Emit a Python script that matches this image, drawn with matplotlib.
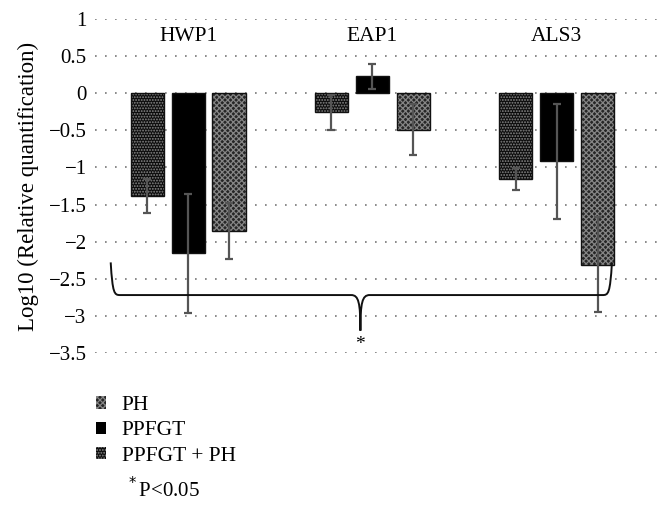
import numpy as np
import matplotlib
matplotlib.use("Agg")
import matplotlib.pyplot as plt
from matplotlib.path import Path
from matplotlib.patches import PathPatch, Patch

plt.rcParams['font.family'] = ['Liberation Serif', 'DejaVu Serif']
plt.rcParams['hatch.linewidth'] = 0.9

# genes on the x axis
genes = ["HWP1", "EAP1", "ALS3"]

# series, in the order they sit inside each group
series_names = ["PPFGT + PH", "PPFGT", "PH"]
ppfgt_ph = [-1.38, -0.26, -1.16]
ppfgt_ph_err = [0.23, 0.23, 0.15]
ppfgt = [-2.16, 0.23, -0.92]
ppfgt_err = [0.80, 0.17, 0.78]
ph = [-1.86, -0.49, -2.31]
ph_err = [0.38, 0.34, 0.64]

values = [ppfgt_ph, ppfgt, ph]
errors = [ppfgt_ph_err, ppfgt_err, ph_err]

# look of each series: face, hatch, hatch colour
styles = [("#0c0c0c", "......", "#8a8a8a"),
          ("#000000", None, None),
          ("#262626", "xxxxxx", "#858585")]

fig = plt.figure(figsize=(6.6, 5.13), dpi=100)
ax = fig.add_axes([0.144, 0.312, 0.853, 0.651])

x = np.arange(len(genes))
w = 0.18
offsets = [-0.222, 0.0, 0.222]

for vals, errs, off, (fc, hatch, hc) in zip(values, errors, offsets, styles):
    if hatch:
        ax.bar(x + off, vals, w, color=fc, hatch=hatch, edgecolor=hc, linewidth=0, zorder=2)
        ax.bar(x + off, vals, w, fill=False, edgecolor="#111111", linewidth=1.0, zorder=3)
    else:
        ax.bar(x + off, vals, w, color=fc, edgecolor="#111111", linewidth=1.0, zorder=2)
    ax.errorbar(x + off, vals, yerr=errs, fmt="none", ecolor="#555555",
                elinewidth=1.6, capsize=3, capthick=1.6, zorder=4)

# gene names along the top
for xi, g in zip(x, genes):
    ax.text(xi, 0.76, g, ha="center", va="center", fontsize=15.5)

ax.set_xlim(-0.505, 2.55)
ax.set_ylim(-3.5, 1)
ax.set_yticks(np.arange(-3.5, 1.01, 0.5))
ax.set_yticklabels(["−3.5", "−3", "−2.5", "−2", "−1.5", "−1", "−0.5", "0", "0.5", "1"])
ax.set_xticks([])
ax.tick_params(axis="y", length=0, labelsize=15, pad=6)
ax.yaxis.grid(True, linestyle=(0, (1, 5)), color="#777777", linewidth=1.2)
ax.set_axisbelow(True)
for s in ax.spines.values():
    s.set_visible(False)
ax.set_ylabel("Log10 (Relative quantification)", fontsize=16.5, labelpad=7)

# curly brace under the groups
xl, xr, tip = -0.42, 2.30, 0.935
yb, yt, ytip = -2.72, -2.28, -3.2
verts = [(xl, yt), (xl + 0.01, yb + 0.02), (xl + 0.02, yb), (xl + 0.05, yb),
         (tip - 0.05, yb),
         (tip - 0.01, yb), (tip, yb - 0.1), (tip, ytip),
         (tip, yb - 0.1), (tip + 0.01, yb), (tip + 0.05, yb),
         (xr - 0.05, yb),
         (xr - 0.02, yb), (xr - 0.01, yb + 0.02), (xr, yt)]
codes = [Path.MOVETO, Path.CURVE4, Path.CURVE4, Path.CURVE4,
         Path.LINETO,
         Path.CURVE4, Path.CURVE4, Path.CURVE4,
         Path.CURVE4, Path.CURVE4, Path.CURVE4,
         Path.LINETO,
         Path.CURVE4, Path.CURVE4, Path.CURVE4]
ax.add_patch(PathPatch(Path(verts, codes), fill=False, edgecolor="#111111",
                       linewidth=1.4, zorder=5, clip_on=False))
ax.text(tip, -3.38, "*", ha="center", va="center", fontsize=14)

# legend below the plot
handles = [Patch(facecolor=styles[2][0], hatch=styles[2][1], edgecolor=styles[2][2], linewidth=0),
           Patch(facecolor=styles[1][0]),
           Patch(facecolor=styles[0][0], hatch=styles[0][1], edgecolor=styles[0][2], linewidth=0)]
fig.legend(handles, ["PH", "PPFGT", "PPFGT + PH"], loc="upper left",
           bbox_to_anchor=(0.145, 0.228), frameon=False, fontsize=15.5,
           borderpad=0, borderaxespad=0,
           handlelength=0.5, handleheight=0.5, handletextpad=0.7, labelspacing=0.3)

fig.text(0.19, 0.045, "$^*$P<0.05", fontsize=15, va="center")

fig.savefig("out.png", dpi=100)
